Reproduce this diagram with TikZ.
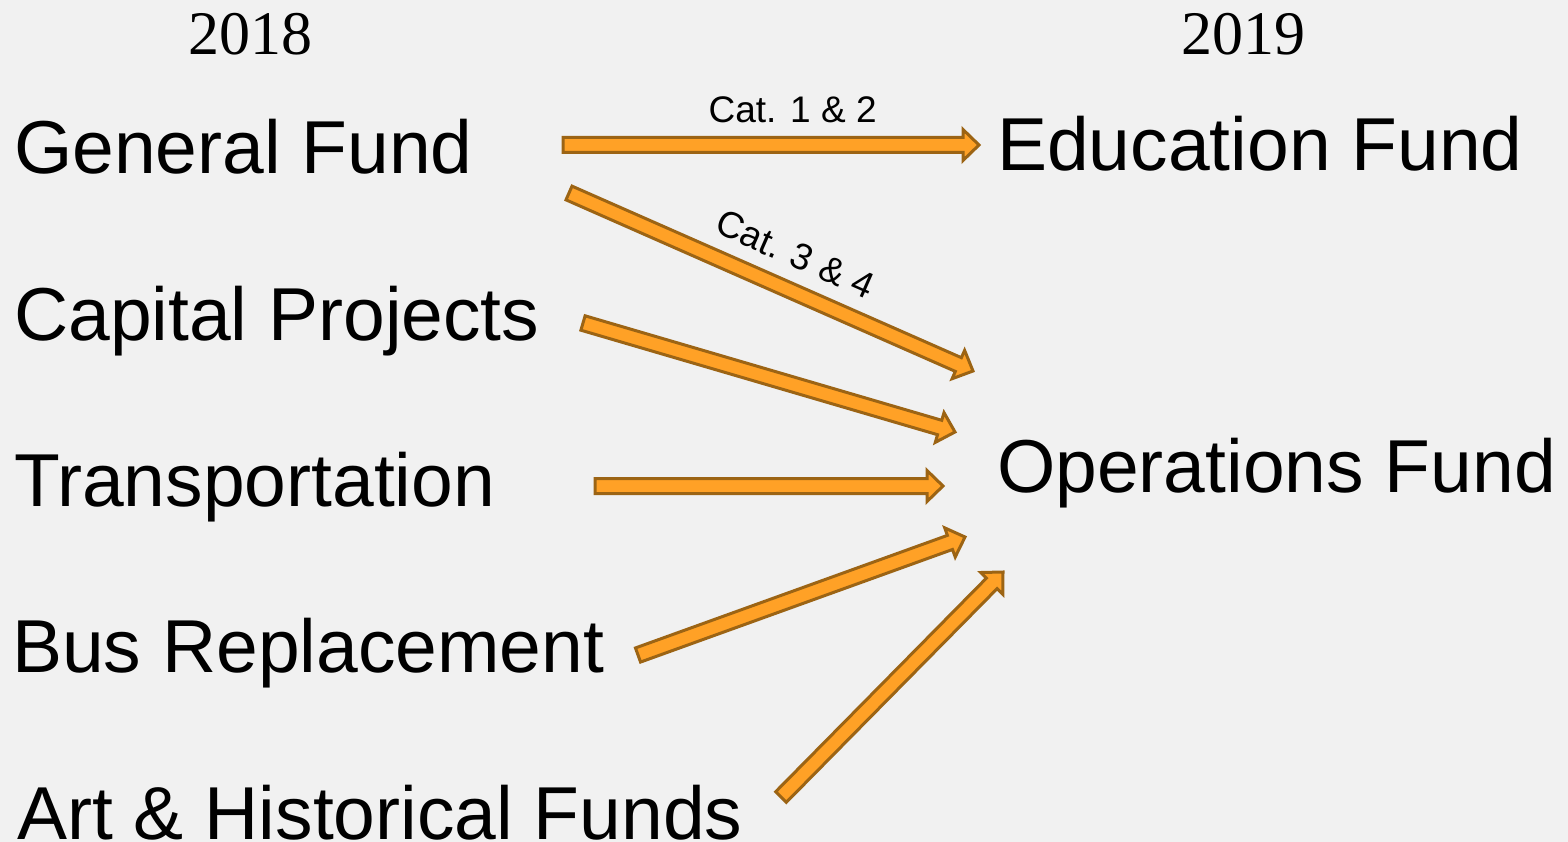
\documentclass[tikz,border=0pt]{standalone}
\usepackage{fontspec}
\setmainfont{Liberation Sans}
\newfontfamily\yearfont{Liberation Serif}
\usetikzlibrary{calc}

\definecolor{paper}{HTML}{F1F1F1}
\definecolor{flowfill}{HTML}{FFA126}
\definecolor{flowline}{HTML}{9C6414}

% block arrow from #1 to #2 (body half-width 7.5, head half-width 15.5)
\newcommand{\flowarrow}[2]{%
  \coordinate (neck) at ($(#2)!16pt!(#1)$);
  \filldraw[flow] ($(#1)!7.5pt!90:(#2)$) -- ($(neck)!7.5pt!-90:(#1)$)
    -- ($(neck)!15.5pt!-90:(#1)$) -- (#2) -- ($(neck)!15.5pt!90:(#1)$)
    -- ($(neck)!7.5pt!90:(#1)$) -- ($(#1)!7.5pt!-90:(#2)$) -- cycle;
}

\begin{document}
\begin{tikzpicture}[
  x=1pt, y=-1pt,
  fund/.style={anchor=base west, inner sep=0pt, font=\fontsize{75}{80}\selectfont},
  year/.style={anchor=base, inner sep=0pt, font=\yearfont\fontsize{62}{70}\selectfont},
  catlabel/.style={inner sep=0pt, font=\fontsize{37}{40}\selectfont},
  flow/.style={fill=flowfill, draw=flowline, line width=3pt, line join=miter}
]
\fill[paper] (0,0) rectangle (1568,842);
\useasboundingbox (0,0) rectangle (1568,842);

% Column headers
\node[year] (y18) at (250,55) {2018};
\node[year] (y19) at (1243,55) {2019};

% Old funds
\node[fund] (gf) at (14,174) {General Fund};
\node[fund] (cp) at (14,340) {Capital Projects};
\node[fund] (tr) at (14,506) {Transportation};
\node[fund] (br) at (12,672) {Bus Replacement};
\node[fund] (ah) at (17,839) {Art \& Historical Funds};

% New funds
\node[fund] (ef) at (997,171) {Education Fund};
\node[fund] (of) at (997,492) {Operations Fund};

% Arrow ends
\coordinate (gf-a) at (563,145);  \coordinate (ef-in) at (979,145);
\coordinate (gf-b) at (569,193);  \coordinate (of-in1) at (973,371);
\coordinate (cp-out) at (583,323); \coordinate (of-in2) at (955,432);
\coordinate (tr-out) at (595,486); \coordinate (of-in3) at (943,486);
\coordinate (br-out) at (638,655); \coordinate (of-in4) at (965,537);
\coordinate (ah-out) at (781,797); \coordinate (of-in5) at (1003,572);

\flowarrow{gf-a}{ef-in}
\flowarrow{gf-b}{of-in1}
\flowarrow{cp-out}{of-in2}
\flowarrow{tr-out}{of-in3}
\flowarrow{br-out}{of-in4}
\flowarrow{ah-out}{of-in5}

% Category labels
\path (gf-a) -- (ef-in) node[catlabel, pos=.552, above=22pt] {Cat. 1 \& 2};
\path (gf-b) -- (of-in1) node[catlabel, pos=.525, sloped, above=22pt] {Cat. 3 \& 4};

\end{tikzpicture}
\end{document}
